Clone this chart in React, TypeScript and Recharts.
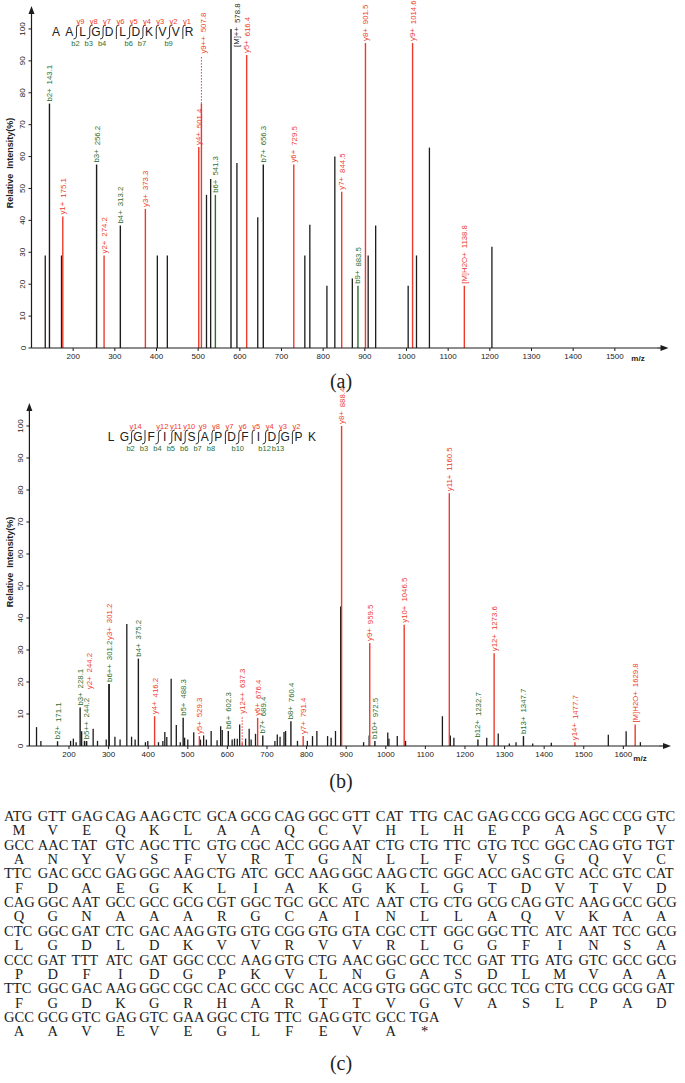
import React from 'react';
import { ComposedChart, XAxis, YAxis, Scatter, ReferenceLine } from 'recharts';

const RED = '#ee3a2c';
const GREEN = '#2c6e2e';
const DARK = '#1c1c1c';
const SANS = '"Liberation Sans", Arial, sans-serif';
const SERIF = '"Liberation Serif", "Times New Roman", serif';

// ---------- Panel (a) ----------
const A_PEAK_MZ = [133, 172, 402, 426, 520, 530, 593, 643, 756, 768, 809, 828, 870, 908, 926, 1004, 1024, 1055, 1205];
const A_PEAK_INT = [29, 29, 29, 29, 48, 53, 58, 41, 29, 38.6, 19.5, 60, 21.8, 29, 38.4, 19.5, 29, 62.8, 31.7];
const A_ION = ['b2+', 'y1+', 'b3+', 'y2+', 'b4+', 'y3+', 'y4+', 'y9++', 'b6+', '[M]++', 'y5+', 'b7+', 'y6+', 'y7+', 'b9+', 'y8+', 'y9+', '[M]H2O+'];
const A_ION_MZ = [143.1, 175.1, 256.2, 274.2, 313.2, 373.3, 501.4, 507.8, 541.3, 578.8, 616.4, 656.3, 729.5, 844.5, 883.5, 901.5, 1014.6, 1138.8];
const A_ION_INT = [76.6, 41.2, 57.5, 29, 38.4, 43.6, 63, 76.6, 48, 100, 91.8, 57.5, 57.5, 49, 19.5, 95.6, 95.6, 19.5];
const A_ION_LINE = ['k', 'r', 'k', 'r', 'k', 'r', 'r', 'r', 'g', 'k', 'r', 'k', 'r', 'r', 'g', 'r', 'r', 'r'];
const A_ION_LABEL = ['g', 'r', 'g', 'r', 'g', 'r', 'r', 'r', 'g', 'k', 'r', 'g', 'r', 'r', 'g', 'r', 'r', 'r'];
const A_X_TICKS = [200, 300, 400, 500, 600, 700, 800, 900, 1000, 1100, 1200, 1300, 1400, 1500];
const A_SEQ = ['A', 'A', 'L', 'G', 'D', 'L', 'D', 'K', 'V', 'V', 'R'];
const A_B_IONS = [2, 3, 4, 6, 7, 9];
const A_Y_IONS = [9, 8, 7, 6, 5, 4, 3, 2, 1];

// ---------- Panel (b) ----------
const B_PEAK_MZ = [118, 129, 204, 211, 218, 232, 239, 261, 272, 294, 316, 329, 346, 358, 367, 393, 399, 426, 437, 442, 447, 458, 471, 481, 492, 500, 515, 532, 540, 547, 559, 574, 583, 587, 612, 618, 625, 631, 646, 655, 660, 671, 720, 726, 733, 743, 747, 777, 802, 815, 826, 853, 862, 873, 886, 944, 958, 1005, 1008, 1029, 1050, 1143, 1163, 1172, 1255, 1284, 1312, 1329, 1371, 1418, 1562, 1607, 1643];
const B_PEAK_INT = [5.9, 1.6, 1.6, 2.3, 1.2, 4.6, 1.6, 5.4, 1.6, 2, 2.9, 2, 38.1, 2.9, 2, 1.2, 1.6, 1.2, 1.6, 4.4, 2.8, 21, 6.6, 1.2, 2.6, 2, 4.3, 2, 3.3, 2, 4.7, 1.8, 6.2, 5, 2, 2.3, 2.3, 6.7, 2.3, 5.4, 2, 3.8, 1.6, 3.6, 2.9, 4.4, 4.7, 1.6, 1.6, 3.1, 4.7, 3.1, 2.6, 4.7, 43.6, 1.2, 3.3, 4.2, 2.3, 3.1, 1.6, 9.3, 3.3, 2.6, 2.6, 3.9, 0.8, 1.2, 0.8, 1, 3.5, 4.6, 1.2];
const B_ION = ['b2+', 'b3+', 'b5++', 'y2+', 'b6++', 'y3+', 'b4+', 'y4+', 'b5+', 'y5+', 'b6+', 'y12++', 'y6+', 'b7+', 'b8+', 'y7+', 'y8+', 'y9+', 'b10+', 'y10+', 'y11+', 'b12+', 'y12+', 'b13+', 'y14+', '[M]H2O+'];
const B_ION_MZ = [171.1, 228.1, 244.2, 244.2, 301.2, 301.2, 375.2, 416.2, 488.3, 529.3, 602.3, 637.3, 676.4, 689.4, 760.4, 791.4, 888.4, 959.5, 972.5, 1046.5, 1160.5, 1232.7, 1273.6, 1347.7, 1477.7, 1629.8];
const B_ION_INT = [1.5, 12, 1.5, 1.5, 19.4, 19.4, 27.3, 9.3, 8.8, 3.1, 4.7, 1, 8.8, 3.3, 7.7, 3.1, 100, 32.2, 1.6, 37.9, 79, 2, 29, 3.1, 1.2, 6.7];
const B_ION_LINE = ['k', 'k', 'k', 'k', 'k', 'k', 'k', 'r', 'k', 'r', 'k', 'r', 'r', 'k', 'k', 'r', 'r', 'r', 'k', 'r', 'r', 'k', 'r', 'k', 'r', 'r'];
const B_ION_LABEL = ['g', 'g', 'g', 'r', 'g', 'r', 'g', 'r', 'g', 'r', 'g', 'r', 'r', 'g', 'g', 'r', 'r', 'r', 'g', 'r', 'r', 'g', 'r', 'g', 'r', 'r'];
const B_X_TICKS = [200, 300, 400, 500, 600, 700, 800, 900, 1000, 1100, 1200, 1300, 1400, 1500, 1600];
const B_SEQ = ['L', 'G', 'G', 'F', 'I', 'N', 'S', 'A', 'P', 'D', 'F', 'I', 'D', 'G', 'P', 'K'];
const B_B_IONS = [2, 3, 4, 5, 6, 7, 8, 10, 12, 13];
const B_Y_IONS = [14, 12, 11, 10, 9, 8, 7, 6, 5, 4, 3, 2];

const Y_TICKS = [0, 10, 20, 30, 40, 50, 60, 70, 80, 90, 100];

// ---------- Panel (c) ----------
const CODON_ROWS = [
  'ATG GTT GAG CAG AAG CTC GCA GCG CAG GGC GTT CAT TTG CAC GAG CCG GCG AGC CCG GTC',
  'GCC AAC TAT GTC AGC TTC GTG CGC ACC GGG AAT CTG CTG TTC GTG TCC GGC CAG GTG TGT',
  'TTC GAC GCC GAG GGC AAG CTG ATC GCC AAG GGC AAG CTC GGC ACC GAC GTC ACC GTC CAT',
  'CAG GGC AAT GCC GCC GCG CGT GGC TGC GCC ATC AAT CTG CTG GCG CAG GTC AAG GCC GCG',
  'CTC GGC GAT CTC GAC AAG GTG GTG CGG GTG GTA CGC CTT GGC GGC TTC ATC AAT TCC GCG',
  'CCC GAT TTT ATC GAT GGC CCC AAG GTG CTG AAC GGC GCC TCC GAT TTG ATG GTC GCC GCG',
  'TTC GGC GAC AAG GGC CGC CAC GCC CGC ACC ACG GTG GGC GTC GCC TCG CTG CCG GCG GAT',
  'GCC GCG GTC GAG GTC GAA GGC CTG TTC GAG GTC GCC TGA',
];
const AA_ROWS = [
  'M V E Q K L A A Q C V H L H E P A S P V',
  'A N Y V S F V R T G N L L F V S G Q V C',
  'F D A E G K L I A K G K L G T D V T V D',
  'Q G N A A A R G C A I N L L A Q V K A A',
  'L G D L D K V V R V V R L G G F I N S A',
  'P D F I D G P K V L N G A S D L M V A A',
  'F G D K G R H A R T T V G V A S L P A D',
  'A A V E V E G L F E V A *',
];

// label placement adjustments (style, not data)
const A_ADJUST: Record<string, { lift?: number; dx?: number; dotted?: boolean }> = {
  'y9++': { lift: 48, dx: 2, dotted: true },
  '[M]++': { lift: -20, dx: 6 },
};
const B_ADJUST: Record<string, { lift?: number; dx?: number; dotted?: boolean }> = {
  'y2+': { lift: 50, dx: 3 },
  'y3+': { lift: 42 },
  'y12++': { lift: 27, dotted: true },
};

const colorOf = (c: string) => (c === 'r' ? RED : c === 'g' ? GREEN : DARK);

function PeakLabel(props: any) {
  const { cx, cy, payload, adjust } = props;
  if (cx == null || cy == null) return null;
  const p = payload || props;
  const adj = adjust[p.ion] || {};
  const lift = adj.lift || 0;
  const tx = cx + (adj.dx || 0);
  const ty = cy - 2 - lift;
  const color = colorOf(p.lc);
  return (
    <g>
      {adj.dotted ? (
        <line x1={cx} x2={cx} y1={cy} y2={ty + 2} stroke={color} strokeWidth={1} strokeDasharray="1.5 1.5" />
      ) : null}
      <text
        x={tx}
        y={ty}
        transform={`rotate(-90 ${tx} ${ty})`}
        fontSize={7.8}
        fontFamily={SANS}
        fill={color}
        dominantBaseline="central"
      >
        {p.ion}
        <tspan dx={4}>{p.mz.toFixed(1)}</tspan>
      </text>
    </g>
  );
}

function YTick(props: any) {
  const { x, y, payload } = props;
  return (
    <text x={x} y={y} transform={`rotate(-90 ${x} ${y})`} textAnchor="middle" fontSize={8} fill="#222" fontFamily={SANS}>
      {payload.value}
    </text>
  );
}

function Spectrum(props: any) {
  const { top, height, marginTop, marginRight, yWidth, xDomain, xTicks, bgMz, bgInt, ions, ionMz, ionInt, ionLine, ionLabel, adjust } = props;
  const ionData = ions.map((ion: string, i: number) => ({ mz: ionMz[i], int: ionInt[i], ion, lc: ionLabel[i], line: ionLine[i] }));
  const bg = bgMz.map((mz: number, i: number) => ({ mz, int: bgInt[i] }));
  return (
    <div style={{ position: 'absolute', left: 0, top, width: 685, height }}>
      <ComposedChart width={685} height={height} margin={{ top: marginTop, right: marginRight, bottom: 7, left: 0 }} data={ionData}>
        <XAxis
          dataKey="mz"
          type="number"
          domain={xDomain}
          ticks={xTicks}
          interval={0}
          height={20}
          tickSize={3}
          tickMargin={2}
          axisLine={{ stroke: DARK, strokeWidth: 1.2 }}
          tickLine={{ stroke: DARK }}
          tick={{ fontSize: 8, fill: '#222', fontFamily: SANS }}
        />
        <YAxis
          type="number"
          domain={[0, 105]}
          ticks={Y_TICKS}
          interval={0}
          width={yWidth}
          tickSize={3}
          tickMargin={3}
          axisLine={{ stroke: DARK, strokeWidth: 1.2 }}
          tickLine={{ stroke: DARK }}
          tick={<YTick />}
        />
        {bg.map((p: any, i: number) => (
          <ReferenceLine key={'bg' + i} segment={[{ x: p.mz, y: 0 }, { x: p.mz, y: p.int }]} stroke={DARK} strokeWidth={1.3} />
        ))}
        {ionData.map((p: any, i: number) => (
          <ReferenceLine key={'ion' + i} segment={[{ x: p.mz, y: 0 }, { x: p.mz, y: p.int }]} stroke={colorOf(p.line)} strokeWidth={1.4} />
        ))}
        <Scatter data={ionData} dataKey="int" isAnimationActive={false} shape={(sp: any) => <PeakLabel {...sp} adjust={adjust} />} />
      </ComposedChart>
    </div>
  );
}

function Header(props: any) {
  const { seq, bIons, yIons, x0, step, base } = props;
  const n = seq.length;
  const lx = (i: number) => x0 + i * step;
  const marks: any[] = [];
  for (let k = 1; k < n; k++) {
    const hasB = bIons.includes(k);
    const yk = n - k;
    const hasY = yIons.includes(yk);
    if (!hasB && !hasY) continue;
    const mx = (lx(k - 1) + lx(k)) / 2 + 0.5;
    const yt = base - 11;
    const yb = base + 3;
    let d = '';
    if (hasY) d += `M ${mx + 3} ${yt} Q ${mx} ${yt} ${mx} ${yt + 3} `;
    else d += `M ${mx} ${yt} `;
    if (hasB) d += `L ${mx} ${yb - 3} Q ${mx} ${yb} ${mx - 3} ${yb}`;
    else d += `L ${mx} ${yb}`;
    marks.push(
      <g key={'m' + k}>
        <path d={d} stroke="#333" strokeWidth={1} fill="none" />
        {hasY ? (
          <text x={mx + 4} y={base - 12.5} fontSize={7.5} fill={RED} fontFamily={SANS} textAnchor="middle">{'y' + yk}</text>
        ) : null}
        {hasB ? (
          <text x={mx - 1} y={base + 10} fontSize={7.5} fill={GREEN} fontFamily={SANS} textAnchor="middle">{'b' + k}</text>
        ) : null}
      </g>
    );
  }
  return (
    <g>
      {seq.map((s: string, i: number) => (
        <text key={'l' + i} x={lx(i)} y={base} fontSize={12} fill="#222" fontFamily={SANS} textAnchor="middle">{s}</text>
      ))}
      {marks}
    </g>
  );
}

function SequenceText() {
  const x0 = 4;
  const step = 33.8;
  const y0 = 821;
  const lh = 14.35;
  const out: any[] = [];
  CODON_ROWS.forEach((row, r) => {
    const codons = row.split(' ');
    const aas = AA_ROWS[r].split(' ');
    codons.forEach((c, i) => {
      out.push(
        <text key={`c${r}-${i}`} x={x0 + i * step} y={y0 + 2 * r * lh} fontSize={14.5} fontFamily={SERIF} fill="#222">{c}</text>
      );
    });
    aas.forEach((a, i) => {
      out.push(
        <text key={`a${r}-${i}`} x={x0 + i * step + 15} y={y0 + (2 * r + 1) * lh} fontSize={14.5} fontFamily={SERIF} fill="#222" textAnchor="middle">{a}</text>
      );
    });
  });
  return <g>{out}</g>;
}

function Arrows(props: any) {
  const { ax, top, right, bottom } = props;
  return (
    <g fill={DARK} stroke="none">
      <polygon points={`${ax},${top - 7} ${ax - 3},${top + 1} ${ax + 3},${top + 1}`} />
      <line x1={right} x2={right + 6} y1={bottom} y2={bottom} stroke={DARK} strokeWidth={1.2} />
      <polygon points={`${right + 12},${bottom} ${right + 4},${bottom - 3} ${right + 4},${bottom + 3}`} />
    </g>
  );
}

export default function App() {
  return (
    <div style={{ position: 'absolute', left: 0, top: 0, width: 685, height: 1083, background: '#fff', overflow: 'hidden' }}>
      <Spectrum
        top={0}
        height={375}
        marginTop={13}
        marginRight={28.5}
        yWidth={31.5}
        xDomain={[100, 1600]}
        xTicks={A_X_TICKS}
        bgMz={A_PEAK_MZ}
        bgInt={A_PEAK_INT}
        ions={A_ION}
        ionMz={A_ION_MZ}
        ionInt={A_ION_INT}
        ionLine={A_ION_LINE}
        ionLabel={A_ION_LABEL}
        adjust={A_ADJUST}
      />
      <Spectrum
        top={368}
        height={405}
        marginTop={42}
        marginRight={26}
        yWidth={29.4}
        xDomain={[100, 1690]}
        xTicks={B_X_TICKS}
        bgMz={B_PEAK_MZ}
        bgInt={B_PEAK_INT}
        ions={B_ION}
        ionMz={B_ION_MZ}
        ionInt={B_ION_INT}
        ionLine={B_ION_LINE}
        ionLabel={B_ION_LABEL}
        adjust={B_ADJUST}
      />
      <svg width={685} height={1083} style={{ position: 'absolute', left: 0, top: 0, pointerEvents: 'none' }}>
        <Arrows ax={31.5} top={13} right={656.5} bottom={348} />
        <Arrows ax={29.4} top={410} right={659} bottom={746} />
        <text x={13} y={163} transform="rotate(-90 13 163)" textAnchor="middle" fontSize={9} fontWeight="bold" fontFamily={SANS} fill="#222" style={{ whiteSpace: 'pre' }}>{'Relative  Intensity(%)'}</text>
        <text x={13} y={562} transform="rotate(-90 13 562)" textAnchor="middle" fontSize={9} fontWeight="bold" fontFamily={SANS} fill="#222" style={{ whiteSpace: 'pre' }}>{'Relative  Intensity(%)'}</text>
        <text x={638} y={361} textAnchor="middle" fontSize={8} fontWeight="bold" fontFamily={SANS} fill="#222">m/z</text>
        <text x={640} y={761} textAnchor="middle" fontSize={8} fontWeight="bold" fontFamily={SANS} fill="#222">m/z</text>
        <Header seq={A_SEQ} bIons={A_B_IONS} yIons={A_Y_IONS} x0={56} step={13.3} base={36} />
        <Header seq={B_SEQ} bIons={B_B_IONS} yIons={B_Y_IONS} x0={111} step={13.4} base={441} />
        <text x={341} y={388} textAnchor="middle" fontSize={20} fontFamily={SERIF} fill="#222">(a)</text>
        <text x={341} y={788} textAnchor="middle" fontSize={20} fontFamily={SERIF} fill="#222">(b)</text>
        <text x={341} y={1070} textAnchor="middle" fontSize={20} fontFamily={SERIF} fill="#222">(c)</text>
        <SequenceText />
      </svg>
    </div>
  );
}
